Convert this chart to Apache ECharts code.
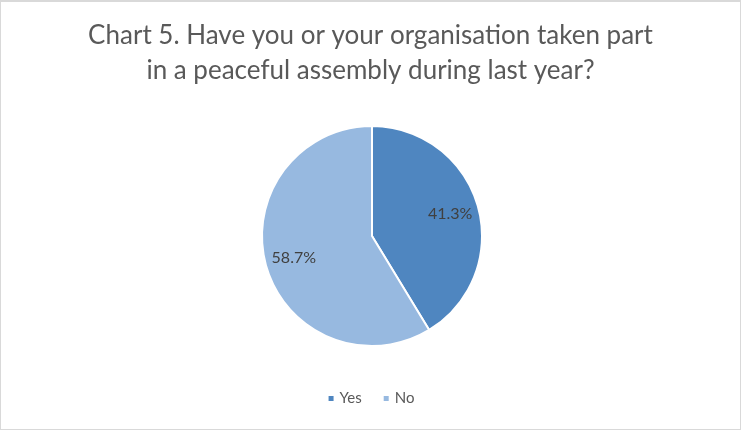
<!DOCTYPE html>
<html>
<head>
<meta charset="utf-8">
<script src="https://cdn.jsdelivr.net/npm/echarts@6/dist/echarts.min.js"></script>
<style>
  html, body { margin: 0; padding: 0; background: #fff; }
  #chart { width: 739px; height: 427px; border: 1px solid #d9d9d9; border-top-width: 2px; }
</style>
</head>
<body>
<div id="chart"></div>
<script>
// Survey answers and their shares (%)
const answers = ['Yes', 'No'];
const shares = [41.3, 58.7];
const colors = ['#4F86C0', '#97B9E0'];

const pieCenter = [371, 234];
const labelSpread = 1.4; // push inside labels further toward the rim

const chart = echarts.init(document.getElementById('chart'));
chart.setOption({
  animation: false,
  title: {
    text: 'Chart 5. Have you or your organisation taken part\nin a peaceful assembly during last year?',
    left: 'center',
    top: 11,
    textStyle: {
      fontFamily: 'Lato',
      fontWeight: 'normal',
      fontSize: 26,
      color: '#595959',
      lineHeight: 35
    }
  },
  legend: {
    bottom: 18,
    left: 'center',
    icon: 'rect',
    itemWidth: 7,
    itemHeight: 7,
    itemGap: 20,
    textStyle: { fontFamily: 'Lato', fontSize: 15, color: '#595959' },
    data: answers
  },
  series: [{
    type: 'pie',
    center: pieCenter,
    radius: 110,
    startAngle: 90,
    clockwise: true,
    itemStyle: { borderColor: '#fff', borderWidth: 2 },
    label: {
      show: true,
      position: 'inside',
      formatter: p => p.value.toFixed(1) + '%',
      fontFamily: 'Lato',
      fontSize: 16,
      color: '#404040'
    },
    labelLine: { show: false },
    labelLayout: function (params) {
      const r = params.labelRect;
      const cx = r.x + r.width / 2, cy = r.y + r.height / 2;
      const nx = pieCenter[0] + (cx - pieCenter[0]) * labelSpread;
      const ny = pieCenter[1] + (cy - pieCenter[1]) * labelSpread;
      return { x: nx, y: ny, align: 'center', verticalAlign: 'middle' };
    },
    emphasis: { disabled: true },
    data: answers.map((a, i) => ({ name: a, value: shares[i], itemStyle: { color: colors[i] } }))
  }]
});
</script>
</body>
</html>
